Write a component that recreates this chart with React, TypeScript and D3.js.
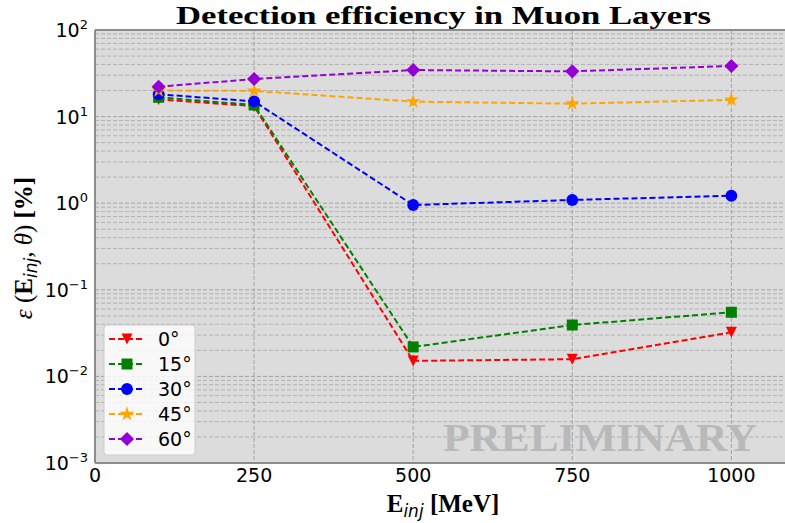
import React, { useRef, useEffect } from 'react';
import * as d3 from 'd3';

// injected energies [MeV]
const energies = [100, 250, 500, 750, 1000];

// detection efficiency [%] per incidence angle
const eff0 = [15.8, 13.2, 0.0151, 0.0158, 0.0323];
const eff15 = [16.7, 13.6, 0.0219, 0.0392, 0.055];
const eff30 = [18.1, 15.0, 0.953, 1.09, 1.22];
const eff45 = [20.0, 19.8, 14.9, 14.1, 15.6];
const eff60 = [22.1, 27.2, 34.5, 33.3, 38.4];

const angleLabels = ['0°', '15°', '30°', '45°', '60°'];
const xTicks = [0, 250, 500, 750, 1000];
const yDecades = [-3, -2, -1, 0, 1, 2];

const W = 785;
const H = 523;

type Marker = 'tri' | 'square' | 'circle' | 'star' | 'diamond';

const seriesList: { label: string; values: number[]; color: string; marker: Marker }[] = [
  { label: angleLabels[0], values: eff0, color: '#ff0000', marker: 'tri' },
  { label: angleLabels[1], values: eff15, color: '#008000', marker: 'square' },
  { label: angleLabels[2], values: eff30, color: '#0000ff', marker: 'circle' },
  { label: angleLabels[3], values: eff45, color: '#ffa500', marker: 'star' },
  { label: angleLabels[4], values: eff60, color: '#9400d3', marker: 'diamond' },
];

// custom symbol types (matplotlib-like 'v' and 'D')
const triDown = {
  draw(ctx: d3.Path, size: number) {
    const s = Math.sqrt(size) / 2;
    ctx.moveTo(-s, -s);
    ctx.lineTo(s, -s);
    ctx.lineTo(0, s);
    ctx.closePath();
  },
};
const diamond = {
  draw(ctx: d3.Path, size: number) {
    const s = Math.sqrt(size) / 2;
    ctx.moveTo(0, -s);
    ctx.lineTo(s, 0);
    ctx.lineTo(0, s);
    ctx.lineTo(-s, 0);
    ctx.closePath();
  },
};

function symbolPath(m: Marker) {
  switch (m) {
    case 'tri':
      return d3.symbol(triDown as any, 121)();
    case 'square':
      return d3.symbol(d3.symbolSquare, 121)();
    case 'circle':
      return d3.symbol(d3.symbolCircle, 110)();
    case 'star':
      return d3.symbol(d3.symbolStar, 66)();
    default:
      return d3.symbol(diamond as any, 200)();
  }
}

export default function App() {
  const svgRef = useRef<SVGSVGElement>(null);

  useEffect(() => {
    const svg = d3.select(svgRef.current);
    svg.selectAll('*').remove();

    const margin = { top: 30, left: 95, bottom: 60 };
    const plotRight = 795;
    const plotBottom = H - margin.bottom;

    const x = d3.scaleLinear().domain([0, 1100]).range([margin.left, plotRight]);
    const y = d3.scaleLog().domain([1e-3, 1e2]).range([plotBottom, margin.top]);

    svg.attr('width', W).attr('height', H);
    svg.append('rect').attr('width', W).attr('height', H).attr('fill', '#ffffff');

    // plot background
    svg.append('rect')
      .attr('x', margin.left)
      .attr('y', margin.top)
      .attr('width', plotRight - margin.left)
      .attr('height', plotBottom - margin.top)
      .attr('fill', '#dcdcdc');

    // minor horizontal grid
    const minor: number[] = [];
    yDecades.slice(0, -1).forEach(d => {
      for (let k = 2; k <= 9; k++) minor.push(k * Math.pow(10, d));
    });
    svg.append('g')
      .selectAll('line')
      .data(minor)
      .enter()
      .append('line')
      .attr('x1', margin.left)
      .attr('x2', plotRight)
      .attr('y1', d => y(d))
      .attr('y2', d => y(d))
      .attr('stroke', '#b2b2b2')
      .attr('stroke-width', 1)
      .attr('stroke-dasharray', '4,2');

    // major grid
    svg.append('g')
      .selectAll('line')
      .data(yDecades.map(d => Math.pow(10, d)))
      .enter()
      .append('line')
      .attr('x1', margin.left)
      .attr('x2', plotRight)
      .attr('y1', d => y(d))
      .attr('y2', d => y(d))
      .attr('stroke', '#a2a2a2')
      .attr('stroke-width', 1)
      .attr('stroke-dasharray', '4,2');

    svg.append('g')
      .selectAll('line')
      .data(xTicks.slice(1))
      .enter()
      .append('line')
      .attr('x1', d => x(d))
      .attr('x2', d => x(d))
      .attr('y1', margin.top)
      .attr('y2', plotBottom)
      .attr('stroke', '#a2a2a2')
      .attr('stroke-width', 1)
      .attr('stroke-dasharray', '4,2');

    // PRELIMINARY watermark
    svg.append('text')
      .attr('x', 443)
      .attr('y', 451)
      .attr('textLength', 314)
      .attr('lengthAdjust', 'spacingAndGlyphs')
      .attr('font-family', '"Liberation Serif", serif')
      .attr('font-weight', 'bold')
      .attr('font-size', 41)
      .attr('fill', '#b9b9b9')
      .text('PRELIMINARY');

    // series
    const line = d3.line<number>()
      .x((_, i) => x(energies[i]))
      .y(d => y(d));

    seriesList.forEach(s => {
      svg.append('path')
        .datum(s.values)
        .attr('d', line)
        .attr('fill', 'none')
        .attr('stroke', s.color)
        .attr('stroke-width', 2)
        .attr('stroke-dasharray', '6,3');

      svg.append('g')
        .selectAll('path')
        .data(s.values)
        .enter()
        .append('path')
        .attr('d', symbolPath(s.marker))
        .attr('transform', (d, i) => `translate(${x(energies[i])},${y(d)})`)
        .attr('fill', s.color);
    });

    // spines
    const spine = svg.append('g').attr('stroke', '#8c8c8c').attr('stroke-width', 2).attr('fill', 'none');
    spine.append('line').attr('x1', margin.left).attr('x2', margin.left).attr('y1', margin.top).attr('y2', plotBottom);
    spine.append('line').attr('x1', margin.left).attr('x2', plotRight).attr('y1', plotBottom).attr('y2', plotBottom);
    spine.append('line').attr('x1', margin.left).attr('x2', plotRight).attr('y1', margin.top).attr('y2', margin.top);

    // x tick labels
    svg.append('g')
      .selectAll('text')
      .data(xTicks)
      .enter()
      .append('text')
      .attr('x', d => x(d))
      .attr('y', plotBottom + 19)
      .attr('text-anchor', 'middle')
      .attr('font-family', '"DejaVu Sans", sans-serif')
      .attr('font-size', 19)
      .attr('fill', '#000')
      .text(d => String(d));

    // y tick labels 10^n
    const yl = svg.append('g')
      .selectAll('text')
      .data(yDecades)
      .enter()
      .append('text')
      .attr('x', 88)
      .attr('y', d => y(Math.pow(10, d)) + 7)
      .attr('text-anchor', 'end')
      .attr('font-family', '"DejaVu Sans", sans-serif')
      .attr('font-size', 19)
      .attr('fill', '#000');
    yl.append('tspan').text('10');
    yl.append('tspan')
      .attr('dy', -8)
      .attr('font-size', 13)
      .text(d => (d < 0 ? '\u2212' + Math.abs(d) : String(d)));

    // title
    svg.append('text')
      .attr('x', 443.5)
      .attr('y', 24)
      .attr('text-anchor', 'middle')
      .attr('textLength', 535)
      .attr('lengthAdjust', 'spacingAndGlyphs')
      .attr('font-family', '"Liberation Serif", serif')
      .attr('font-weight', 'bold')
      .attr('font-size', 26)
      .text('Detection efficiency in Muon Layers');

    // x label
    const xl = svg.append('text')
      .attr('x', 443)
      .attr('y', 512)
      .attr('text-anchor', 'middle')
      .attr('font-family', '"Liberation Serif", serif')
      .attr('font-weight', 'bold')
      .attr('font-size', 25);
    xl.append('tspan').text('E');
    xl.append('tspan')
      .attr('dy', 5)
      .attr('font-family', '"DejaVu Sans", sans-serif')
      .attr('font-weight', 'normal')
      .attr('font-style', 'italic')
      .attr('font-size', 17)
      .text('inj');
    xl.append('tspan').attr('dy', -5).text(' [MeV]');

    // y label
    const ylab = svg.append('text')
      .attr('transform', 'translate(32,248) rotate(-90)')
      .attr('text-anchor', 'middle')
      .attr('font-family', '"Liberation Serif", serif')
      .attr('font-size', 25);
    ylab.append('tspan').attr('font-style', 'italic').text('ε');
    ylab.append('tspan').text(' (');
    ylab.append('tspan').attr('font-weight', 'bold').text('E');
    ylab.append('tspan')
      .attr('dy', 5)
      .attr('font-family', '"DejaVu Sans", sans-serif')
      .attr('font-style', 'italic')
      .attr('font-size', 17)
      .text('inj');
    ylab.append('tspan').attr('dy', -5).text(', ');
    ylab.append('tspan').attr('font-style', 'italic').text('θ');
    ylab.append('tspan').text(') ');
    ylab.append('tspan').attr('font-weight', 'bold').text('[%]');

    // legend
    const lg = svg.append('g').attr('transform', 'translate(104,325)');
    lg.append('rect')
      .attr('width', 91)
      .attr('height', 130)
      .attr('rx', 3)
      .attr('fill', '#ffffff')
      .attr('fill-opacity', 0.8)
      .attr('stroke', '#cccccc')
      .attr('stroke-width', 1);

    const rows = lg.selectAll('g.row')
      .data(seriesList)
      .enter()
      .append('g')
      .attr('class', 'row')
      .attr('transform', (_, i) => `translate(0,${14 + i * 25})`);
    rows.append('line')
      .attr('x1', 5)
      .attr('x2', 39)
      .attr('stroke', d => d.color)
      .attr('stroke-width', 2)
      .attr('stroke-dasharray', '6,3');
    rows.append('path')
      .attr('d', d => symbolPath(d.marker))
      .attr('transform', 'translate(23,0)')
      .attr('fill', d => d.color);
    rows.append('text')
      .attr('x', 54)
      .attr('y', 7)
      .attr('font-family', '"DejaVu Sans", sans-serif')
      .attr('font-size', 19)
      .text(d => d.label);
  }, []);

  return (
    <div style={{ position: 'absolute', left: 0, top: 0 }}>
      <svg ref={svgRef} style={{ display: 'block' }} />
    </div>
  );
}
